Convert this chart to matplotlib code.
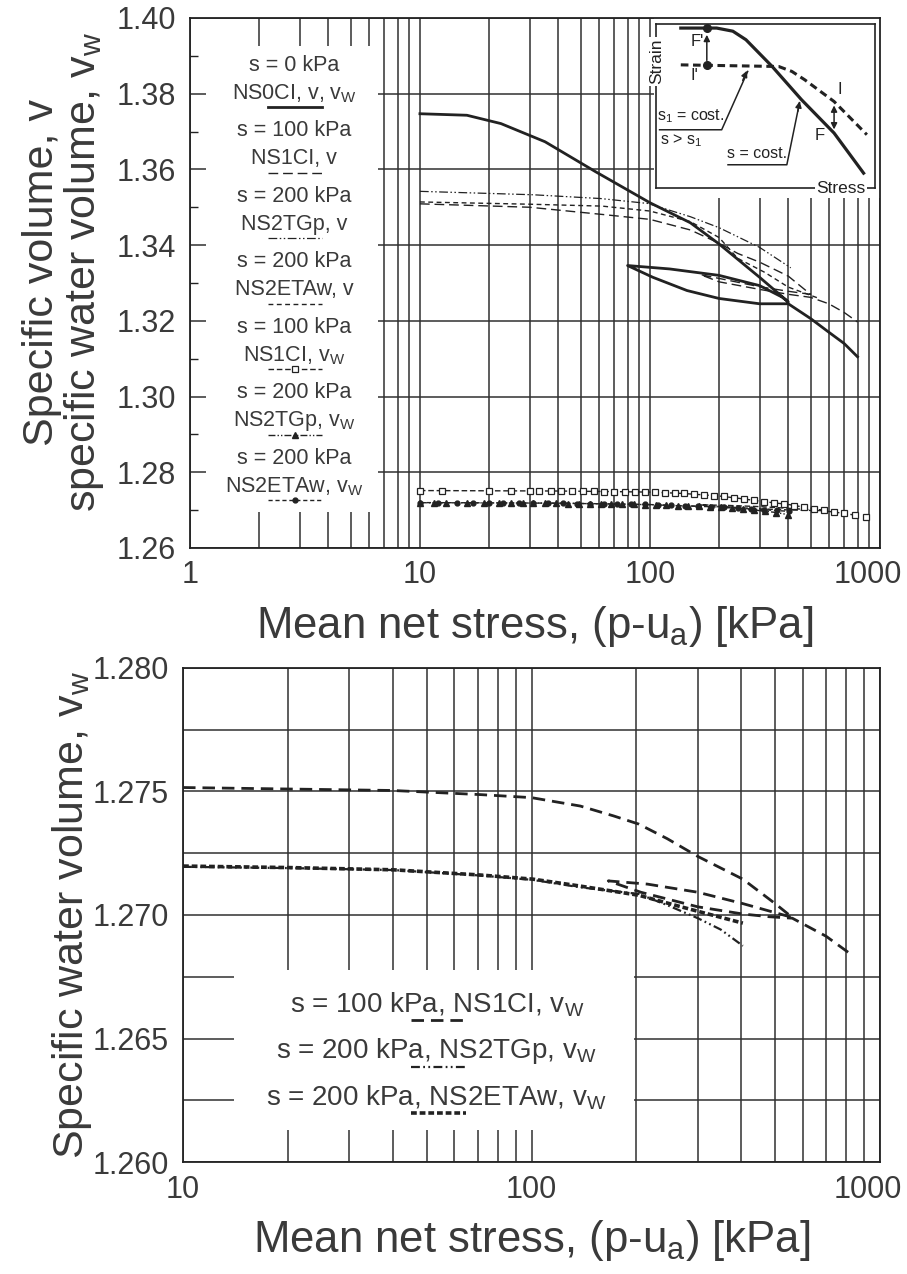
import numpy as np
import matplotlib.pyplot as plt
from matplotlib.patches import Rectangle
from matplotlib.ticker import FixedLocator, NullFormatter, LogLocator
from matplotlib.transforms import ScaledTranslation

plt.rcParams['font.family'] = ['Liberation Sans', 'DejaVu Sans']
plt.rcParams['mathtext.fontset'] = 'custom'
plt.rcParams['mathtext.rm'] = 'Liberation Sans'
plt.rcParams['mathtext.it'] = 'Liberation Sans'
plt.rcParams['mathtext.default'] = 'regular'

# ---- data ----
# top panel: specific volume v (loading / unloading-reloading paths)
p_ns0ci_v = [10, 16, 22.5, 35, 58, 100, 150, 200, 300, 400, 375, 300, 200, 122, 80,
             103, 145, 200, 300, 400, 500, 600, 700, 800]
v_ns0ci_v = [1.3747, 1.3743, 1.3721, 1.3673, 1.3594, 1.3512, 1.3459, 1.3403, 1.3315, 1.3250,
             1.3263, 1.3293, 1.3320, 1.3337, 1.3346, 1.3315, 1.3280, 1.3259, 1.3245, 1.3245,
             1.3206, 1.3170, 1.3140, 1.3105]

p_ns1ci_v = [10, 30, 62, 100, 150, 200, 241, 300, 400, 500, 400, 300, 200, 166,
             200, 300, 400, 500, 600, 700, 800]
v_ns1ci_v = [1.3509, 1.3500, 1.3481, 1.3468, 1.3440, 1.3405, 1.3378, 1.3355, 1.3318, 1.3270,
             1.3278, 1.3290, 1.3312, 1.3322, 1.3303, 1.3283, 1.3270, 1.3262, 1.3245, 1.3222,
             1.3197]

p_ns2tgp_v = [10, 31, 61, 98, 150, 200, 300, 410]
v_ns2tgp_v = [1.3542, 1.3533, 1.3523, 1.3510, 1.3475, 1.3446, 1.3394, 1.3340]

p_ns2etaw_v = [10, 30, 62, 100, 150, 200, 241, 316, 400, 545]
v_ns2etaw_v = [1.3514, 1.3508, 1.3503, 1.3490, 1.3462, 1.3420, 1.3365, 1.3328, 1.3289, 1.3259]

# specific water volume vw (lines in both panels)
p_ns1ci_vw = [10, 20, 40, 72, 100, 138, 172, 203, 245, 300, 404, 500, 560,
              404, 300, 215, 166, 206, 300, 404, 480, 560, 700, 810]
v_ns1ci_vw = [1.27516, 1.27510, 1.27504, 1.27487, 1.27475, 1.27441, 1.27401, 1.27368,
              1.27309, 1.27237, 1.27145, 1.27046, 1.26990, 1.27046, 1.27092, 1.27125,
              1.27138, 1.27092, 1.27033, 1.27004, 1.26993, 1.26987, 1.26914, 1.26849]

p_ns2tgp_vw = [10, 20, 40, 71, 101, 138, 203, 245, 300, 349, 404]
v_ns2tgp_vw = [1.27195, 1.27190, 1.27182, 1.27160, 1.27142, 1.27112, 1.27085, 1.27040,
               1.26987, 1.26941, 1.26875]

p_ns2etaw_vw = [10, 20, 40, 71, 101, 138, 203, 250, 300, 404]
v_ns2etaw_vw = [1.27198, 1.27192, 1.27183, 1.27162, 1.27145, 1.27117, 1.27080, 1.27045,
                1.27015, 1.26967]

# measured vw points shown with markers in the top panel
p_ns1ci_pts = [10, 12.5, 20, 25, 30, 33, 37, 41, 46, 51, 57, 63, 70, 78, 86, 95, 105, 116,
               128, 141, 156, 172, 190, 210, 232, 256, 283, 313, 346, 382, 422, 466, 515,
               570, 630, 700, 780, 870]
v_ns1ci_pts = [1.2751, 1.2751, 1.2751, 1.2751, 1.2751, 1.2751, 1.2751, 1.2751, 1.2750,
               1.2750, 1.2750, 1.2749, 1.2749, 1.2748, 1.2748, 1.2747, 1.2747, 1.2746,
               1.2745, 1.2744, 1.2742, 1.2740, 1.2738, 1.2736, 1.2733, 1.2730, 1.2726,
               1.2722, 1.2718, 1.2715, 1.2712, 1.2708, 1.2704, 1.2699, 1.2696, 1.2691,
               1.2687, 1.2682]
p_ns2tgp_pts = [10, 11.5, 13, 16, 19, 22, 25, 28, 31, 35, 39, 44, 49, 55, 61, 68, 76, 85,
                95, 106, 118, 132, 147, 164, 183, 204, 228, 254, 283, 316, 352, 400]
v_ns2tgp_pts = [1.2720, 1.2720, 1.2720, 1.2719, 1.2719, 1.2719, 1.2719, 1.2718, 1.2718,
                1.2718, 1.2718, 1.2717, 1.2717, 1.2717, 1.2716, 1.2716, 1.2715, 1.2715,
                1.2714, 1.2714, 1.2713, 1.2712, 1.2711, 1.2710, 1.2709, 1.2708, 1.2706,
                1.2703, 1.2700, 1.2697, 1.2693, 1.2688]
p_ns2etaw_pts = [10, 12, 14.5, 17, 20, 23, 27, 31, 36, 42, 48, 55, 63, 72, 83, 95, 108,
                 124, 142, 162, 185, 211, 241, 275, 314, 358, 404]
v_ns2etaw_pts = [1.2720, 1.2720, 1.2719, 1.2719, 1.2719, 1.2719, 1.2719, 1.2718, 1.2718,
                 1.2718, 1.2717, 1.2717, 1.2717, 1.2716, 1.2715, 1.2715, 1.2714, 1.2713,
                 1.2712, 1.2710, 1.2709, 1.2707, 1.2705, 1.2703, 1.2701, 1.2699, 1.2697]

# inset sketch (schematic, normalised units)
ins_solid_x = [0.112, 0.276, 0.35, 0.41, 0.53, 0.664, 0.813, 0.948]
ins_solid_y = [0.974, 0.974, 0.955, 0.903, 0.74, 0.538, 0.335, 0.091]
ins_dash_x = [0.112, 0.56, 0.62, 0.679, 0.813, 0.963]
ins_dash_y = [0.75, 0.74, 0.71, 0.659, 0.527, 0.325]

top_xticks = [1, 10, 100, 1000]
bot_xticks = [10, 100, 1000]
top_yticks = [1.26, 1.28, 1.30, 1.32, 1.34, 1.36, 1.38, 1.40]
bot_yticks = [1.260, 1.265, 1.270, 1.275, 1.280]

ink = '#222222'
gcol = '#303030'
tcol = '#3a3a3a'

# styles
st_ns0 = dict(color=ink, lw=2.0, ls='-')
st_ns1_v = dict(color=ink, lw=1.0, dashes=(7, 3.5))
st_tgp_v = dict(color=ink, lw=0.9, dashes=(7, 2, 1.2, 2, 1.2, 2))
st_eta_v = dict(color=ink, lw=1.0, dashes=(3.5, 2.5))
st_ns1_vw = dict(color=ink, lw=1.0, dashes=(4, 2), marker='s', ms=5, mfc='white', mew=0.9)
st_tgp_vw = dict(color=ink, lw=1.0, dashes=(5, 1.5, 1, 1.5, 1, 1.5), marker='^', ms=5)
st_eta_vw = dict(color=ink, lw=1.0, dashes=(3, 2), marker='o', ms=3.5)

fig = plt.figure(figsize=(9.07, 12.74), dpi=100)
ax1 = fig.add_axes([0.2095, 0.5699, 0.7605, 0.416])
ax2 = fig.add_axes([0.2018, 0.0879, 0.7685, 0.3878])


def setup(ax, xlim, ylim, xticks, yticks):
    ax.set_xscale('log')
    ax.set_xlim(*xlim)
    ax.set_ylim(*ylim)
    ax.set_axisbelow(True)
    ax.xaxis.set_major_locator(FixedLocator(xticks))
    ax.xaxis.set_minor_locator(LogLocator(base=10, subs=np.arange(2, 10), numticks=30))
    ax.xaxis.set_minor_formatter(NullFormatter())
    ax.set_xticklabels([str(t) for t in xticks])
    ax.set_yticks(yticks)
    ax.grid(True, which='both', axis='x', color=gcol, lw=1.1)
    ax.grid(True, which='major', axis='y', color=gcol, lw=1.1)
    ax.tick_params(axis='x', which='both', length=0, pad=9, labelsize=22, labelcolor=tcol)
    ax.tick_params(axis='y', which='major', length=0, pad=10, labelsize=22, labelcolor=tcol)
    for s in ax.spines.values():
        s.set_linewidth(1.3)
        s.set_color(ink)
    # last label sits at the page edge, pull it in a little
    last = ax.get_xticklabels()[-1]
    last.set_transform(last.get_transform() + ScaledTranslation(-0.12, 0, fig.dpi_scale_trans))


# ---------------- top panel ----------------
setup(ax1, (1, 1000), (1.26, 1.40), top_xticks, top_yticks)
ax1.set_yticklabels(['%.2f' % t for t in top_yticks])
ax1.yaxis.set_minor_locator(FixedLocator(np.arange(1.27, 1.40, 0.02)))
ax1.tick_params(axis='y', which='minor', length=6, width=1.0, direction='in', color=ink)

ax1.plot(p_ns0ci_v, v_ns0ci_v, **st_ns0)
ax1.plot(p_ns1ci_v, v_ns1ci_v, **st_ns1_v)
ax1.plot(p_ns2tgp_v, v_ns2tgp_v, **st_tgp_v)
ax1.plot(p_ns2etaw_v, v_ns2etaw_v, **st_eta_v)


def line_only(st):
    return {k: v for k, v in st.items() if k not in ('marker', 'ms', 'mfc', 'mew')}


def marks_only(st):
    return dict(ls='none', color=ink, marker=st['marker'], ms=st['ms'],
                mfc=st.get('mfc', ink), mew=st.get('mew', 1.0))


ax1.plot(p_ns1ci_vw, v_ns1ci_vw, **line_only(st_ns1_vw))
ax1.plot(p_ns2tgp_vw, v_ns2tgp_vw, **line_only(st_tgp_vw))
ax1.plot(p_ns2etaw_vw, v_ns2etaw_vw, **line_only(st_eta_vw))
ax1.plot(p_ns1ci_pts, v_ns1ci_pts, **marks_only(st_ns1_vw))
ax1.plot(p_ns2tgp_pts, v_ns2tgp_pts, **marks_only(st_tgp_vw))
ax1.plot(p_ns2etaw_pts, v_ns2etaw_pts, **marks_only(st_eta_vw))

# white areas hiding the grid behind legend and inset
ax1.add_patch(Rectangle((0.023, 0.068), 0.249, 0.879, transform=ax1.transAxes,
                        fc='white', ec='none', zorder=1))
ax1.add_patch(Rectangle((0.672, 0.66), 0.328, 0.34, transform=ax1.transAxes,
                        fc='white', ec='none', zorder=1))

leg_titles = ['s = 0 kPa', 's = 100 kPa', 's = 200 kPa', 's = 200 kPa',
              's = 100 kPa', 's = 200 kPa', 's = 200 kPa']
leg_names = ['NS0CI, v, $v_W$', 'NS1CI, v', 'NS2TGp, v', 'NS2ETAw, v',
             'NS1CI, $v_W$', 'NS2TGp, $v_W$', 'NS2ETAw, $v_W$']
leg_styles = [st_ns0, st_ns1_v, st_tgp_v, st_eta_v, st_ns1_vw, st_tgp_vw, st_eta_vw]
for i, (t, n, st) in enumerate(zip(leg_titles, leg_names, leg_styles)):
    y0 = 0.911 - i * 0.1237
    ax1.text(0.151, y0, t, transform=ax1.transAxes, ha='center', va='center',
             fontsize=15.5, color=tcol, zorder=3)
    ax1.text(0.151, y0 - 0.053, n, transform=ax1.transAxes, ha='center', va='center',
             fontsize=15.5, color=tcol, zorder=3)
    ax1.plot([0.113, 0.191], [y0 - 0.079] * 2, transform=ax1.transAxes, zorder=3,
             **line_only(st))
    if 'marker' in st:
        ax1.plot([0.152], [y0 - 0.079], transform=ax1.transAxes, zorder=3, **marks_only(st))

ax1.set_xlim(1, 1000)
ax1.set_ylim(1.26, 1.40)
ax1.set_xlabel('Mean net stress, (p-u$_a$) [kPa]', fontsize=31.5, color=tcol, labelpad=10)

# inset sketch
ins = ax1.inset_axes([0.676, 0.679, 0.317, 0.31])
ins.set_zorder(5)
ins.set_xlim(0, 1)
ins.set_ylim(0, 1)
ins.set_xticks([])
ins.set_yticks([])
for s in ins.spines.values():
    s.set_linewidth(1.2)
    s.set_color(ink)
ins.plot(ins_solid_x, ins_solid_y, color=ink, lw=2.3)
ins.plot(ins_dash_x, ins_dash_y, color=ink, lw=2.2, dashes=(2.5, 1.5))
ins.plot([0.231, 0.231], [0.974, 0.75], 'o', color=ink, ms=5.5)
ins.annotate('', xy=(0.231, 0.95), xytext=(0.231, 0.76),
             arrowprops=dict(arrowstyle='-|>', color=ink, lw=1.1, mutation_scale=9))
ins.annotate('', xy=(0.813, 0.52), xytext=(0.813, 0.34),
             arrowprops=dict(arrowstyle='<|-|>', color=ink, lw=1.1, mutation_scale=9))
ins.text(0.185, 0.895, "F'", fontsize=12, color=ink, ha='center', va='center')
ins.text(0.175, 0.685, "I'", fontsize=12, color=ink, ha='center', va='center')
ins.text(0.84, 0.6, 'I', fontsize=12, color=ink, ha='center', va='center')
ins.text(0.745, 0.32, 'F', fontsize=12, color=ink, ha='center', va='center')
ins.text(0.157, 0.44, 's$_1$ = cost.', fontsize=11.5, color=ink, ha='center', va='center')
ins.plot([0.015, 0.299, 0.418], [0.355, 0.355, 0.71], color=ink, lw=1.1)
ins.annotate('', xy=(0.42, 0.73), xytext=(0.39, 0.64),
             arrowprops=dict(arrowstyle='-|>', color=ink, lw=1.1, mutation_scale=9))
ins.text(0.015, 0.29, 's > s$_1$', fontsize=11.5, color=ink, ha='left', va='center')
ins.text(0.46, 0.21, 's = cost.', fontsize=11.5, color=ink, ha='center', va='center')
ins.plot([0.328, 0.597, 0.655], [0.142, 0.142, 0.52], color=ink, lw=1.1)
ins.annotate('', xy=(0.658, 0.545), xytext=(0.645, 0.45),
             arrowprops=dict(arrowstyle='-|>', color=ink, lw=1.1, mutation_scale=9))
ins.text(0.0, 0.77, 'Strain', rotation=90, fontsize=12.5, color=ink, ha='center',
         va='center', bbox=dict(fc='white', ec='none', pad=1))
ins.text(0.843, 0.0, 'Stress', fontsize=12.5, color=ink, ha='center', va='center',
         bbox=dict(fc='white', ec='none', pad=1))

fig.text(64 / 907, 1 - 272 / 1274,
         'Specific volume, v\nspecific water volume, $v_w$', rotation=90,
         ha='center', va='center', fontsize=31, color=tcol, linespacing=1.0,
         multialignment='center')

# ---------------- bottom panel ----------------
setup(ax2, (10, 1000), (1.260, 1.280), bot_xticks, bot_yticks)
ax2.set_yticklabels(['%.3f' % t for t in bot_yticks])
ax2.yaxis.set_minor_locator(FixedLocator(np.arange(1.2625, 1.280, 0.005)))
ax2.grid(True, which='minor', axis='y', color=gcol, lw=1.1)
ax2.tick_params(axis='y', which='minor', length=0)

ax2.plot(p_ns1ci_vw, v_ns1ci_vw, color=ink, lw=2.0, dashes=(4.5, 2.5))
ax2.plot(p_ns2tgp_vw, v_ns2tgp_vw, color=ink, lw=1.6, dashes=(4, 1.5, 0.8, 1.5, 0.8, 1.5))
ax2.plot(p_ns2etaw_vw, v_ns2etaw_vw, color=ink, lw=2.6, dashes=(1.6, 0.8))

ax2.add_patch(Rectangle((0.073, 0.065), 0.574, 0.324, transform=ax2.transAxes,
                        fc='white', ec='none', zorder=1))

bot_leg = ['s = 100 kPa, NS1CI, $v_W$', 's = 200 kPa, NS2TGp, $v_W$',
           's = 200 kPa, NS2ETAw, $v_W$']
bot_styles = [dict(lw=2.0, dashes=(4.5, 2.5)), dict(lw=1.6, dashes=(4, 1.5, 0.8, 1.5, 0.8, 1.5)),
              dict(lw=2.6, dashes=(1.6, 0.8))]
for i, (t, st) in enumerate(zip(bot_leg, bot_styles)):
    y0 = 0.318 - i * 0.094
    ax2.text(0.364, y0, t, transform=ax2.transAxes, ha='center', va='center',
             fontsize=20, color=tcol, zorder=3)
    ax2.plot([0.327, 0.406], [y0 - 0.031] * 2, transform=ax2.transAxes, color=ink,
             zorder=3, **st)

ax2.set_xlim(10, 1000)
ax2.set_ylim(1.260, 1.280)
ax2.set_xlabel('Mean net stress, (p-u$_a$) [kPa]', fontsize=31.5, color=tcol, labelpad=10)
fig.text(72 / 907, 1 - 915 / 1274, 'Specific water volume, $v_w$', rotation=90,
         ha='center', va='center', fontsize=31, color=tcol)

fig.savefig('out.png', dpi=100, facecolor='white')
